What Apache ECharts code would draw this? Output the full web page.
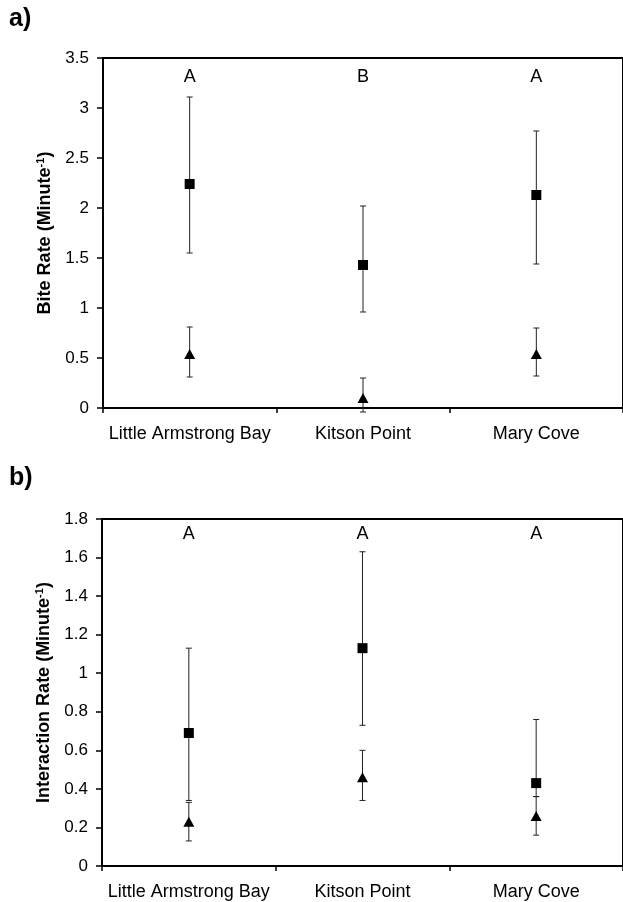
<!DOCTYPE html>
<html>
<head>
<meta charset="utf-8">
<script src="https://cdn.jsdelivr.net/npm/echarts@6/dist/echarts.min.js"></script>
<style>
html,body{margin:0;padding:0;background:#fff;}
#chart{width:623px;height:902px;}
</style>
</head>
<body>
<div id="chart"></div>
<script>
// ---- Data ----
const categories = ['Little Armstrong Bay', 'Kitson Point', 'Mary Cove'];

// Panel a) Bite rate
const biteSquare     = [2.24, 1.43, 2.13];
const biteSquareLow  = [1.55, 0.96, 1.44];
const biteSquareHigh = [3.11, 2.02, 2.77];
const biteTri        = [0.54, 0.10, 0.54];
const biteTriLow     = [0.31, -0.04, 0.32];
const biteTriHigh    = [0.81, 0.30, 0.80];
const biteLetters    = ['A', 'B', 'A'];
const biteLetterLevel = 3.31;
const biteTicks      = [0, 0.5, 1, 1.5, 2, 2.5, 3, 3.5];

// Panel b) Interaction rate
const interSquare     = [0.69, 1.13, 0.43];
const interSquareLow  = [0.34, 0.73, 0.36];
const interSquareHigh = [1.13, 1.63, 0.76];
const interTri        = [0.23, 0.46, 0.26];
const interTriLow     = [0.13, 0.34, 0.16];
const interTriHigh    = [0.33, 0.60, 0.36];
const interLetters    = ['A', 'A', 'A'];
const interLetterLevel = 1.72;
const interTicks      = [0, 0.2, 0.4, 0.6, 0.8, 1, 1.2, 1.4, 1.6, 1.8];

// ---- Helpers ----
const FONT = 'Liberation Sans, Arial, sans-serif';

function errData(low, high) {
  return low.map((l, i) => [i, l, high[i]]);
}
function errRender(params, api) {
  const x = api.value(0);
  const p1 = api.coord([x, api.value(2)]);
  const p2 = api.coord([x, api.value(1)]);
  const hw = 3;
  const st = { stroke: '#222', lineWidth: 1 };
  return {
    type: 'group',
    children: [
      { type: 'line', shape: { x1: p1[0], y1: p1[1], x2: p2[0], y2: p2[1] }, style: st },
      { type: 'line', shape: { x1: p1[0] - hw, y1: p1[1], x2: p1[0] + hw, y2: p1[1] }, style: st },
      { type: 'line', shape: { x1: p2[0] - hw, y1: p2[1], x2: p2[0] + hw, y2: p2[1] }, style: st }
    ]
  };
}

function xAxisCfg(gi) {
  return {
    type: 'category', gridIndex: gi, data: categories, boundaryGap: true,
    axisLine: { show: true, lineStyle: { color: '#000', width: 2 } },
    axisTick: { show: true, length: 5, lineStyle: { color: '#000', width: 1.5 } },
    axisLabel: { color: '#000', fontFamily: FONT, fontSize: 18, margin: 17, interval: 0, hideOverlap: false },
    splitLine: { show: false }
  };
}
function yAxisCfg(gi, ticks, name) {
  return {
    type: 'value', gridIndex: gi,
    min: ticks[0], max: ticks[ticks.length - 1], interval: ticks[1] - ticks[0],
    axisLine: { show: true, lineStyle: { color: '#000', width: 2 } },
    axisTick: { show: true, length: 6, lineStyle: { color: '#000', width: 1.5 } },
    axisLabel: { color: '#000', fontFamily: FONT, fontSize: 17, margin: 14 },
    splitLine: { show: false },
    name: name,
    nameLocation: 'middle',
    nameGap: 48,
    nameTextStyle: {
      color: '#000', fontFamily: FONT, fontSize: 18, fontWeight: 'bold',
      rich: { sup: { fontSize: 11, fontWeight: 'bold', fontFamily: FONT, color: '#000', verticalAlign: 'top', padding: [0, 0, 8, 0] } }
    }
  };
}

function panelSeries(gi, sq, sqLo, sqHi, tr, trLo, trHi, letters, letterLevel) {
  return [
    { type: 'custom', xAxisIndex: gi, yAxisIndex: gi, renderItem: errRender,
      data: errData(trLo, trHi), encode: { x: 0, y: [1, 2] }, z: 1, silent: true },
    { type: 'custom', xAxisIndex: gi, yAxisIndex: gi, renderItem: errRender,
      data: errData(sqLo, sqHi), encode: { x: 0, y: [1, 2] }, z: 1, silent: true },
    { type: 'scatter', xAxisIndex: gi, yAxisIndex: gi, data: tr, symbol: 'triangle',
      symbolSize: [11, 10], itemStyle: { color: '#000', opacity: 1 }, z: 3, silent: true },
    { type: 'scatter', xAxisIndex: gi, yAxisIndex: gi, data: sq, symbol: 'rect',
      symbolSize: 10, itemStyle: { color: '#000', opacity: 1 }, z: 3, silent: true },
    { type: 'scatter', xAxisIndex: gi, yAxisIndex: gi,
      data: letters.map((l, i) => [i, letterLevel]),
      symbolSize: 0.1, itemStyle: { color: 'rgba(0,0,0,0)', opacity: 1 }, silent: true,
      label: { show: true, position: 'inside', color: '#000', opacity: 1, fontFamily: FONT, fontSize: 18,
               formatter: p => letters[p.dataIndex] } }
  ];
}

const chart = echarts.init(document.getElementById('chart'), null, { renderer: 'canvas' });
chart.setOption({
  animation: false,
  backgroundColor: '#fff',
  graphic: [
    { type: 'text', left: 9, top: 7, style: { text: 'a)', font: 'bold 25px ' + FONT, fill: '#000' } },
    { type: 'text', left: 9, top: 466, style: { text: 'b)', font: 'bold 25px ' + FONT, fill: '#000' } }
  ],
  grid: [
    { left: 103, top: 58, width: 525, height: 350, show: true, borderColor: '#000', borderWidth: 2, backgroundColor: 'transparent' },
    { left: 102, top: 519, width: 525, height: 347, show: true, borderColor: '#000', borderWidth: 2, backgroundColor: 'transparent' }
  ],
  xAxis: [xAxisCfg(0), xAxisCfg(1)],
  yAxis: [
    yAxisCfg(0, biteTicks, 'Bite Rate (Minute{sup|-1})'),
    yAxisCfg(1, interTicks, 'Interaction Rate (Minute{sup|-1})')
  ],
  series: [].concat(
    panelSeries(0, biteSquare, biteSquareLow, biteSquareHigh, biteTri, biteTriLow, biteTriHigh, biteLetters, biteLetterLevel),
    panelSeries(1, interSquare, interSquareLow, interSquareHigh, interTri, interTriLow, interTriHigh, interLetters, interLetterLevel)
  )
});
</script>
</body>
</html>
